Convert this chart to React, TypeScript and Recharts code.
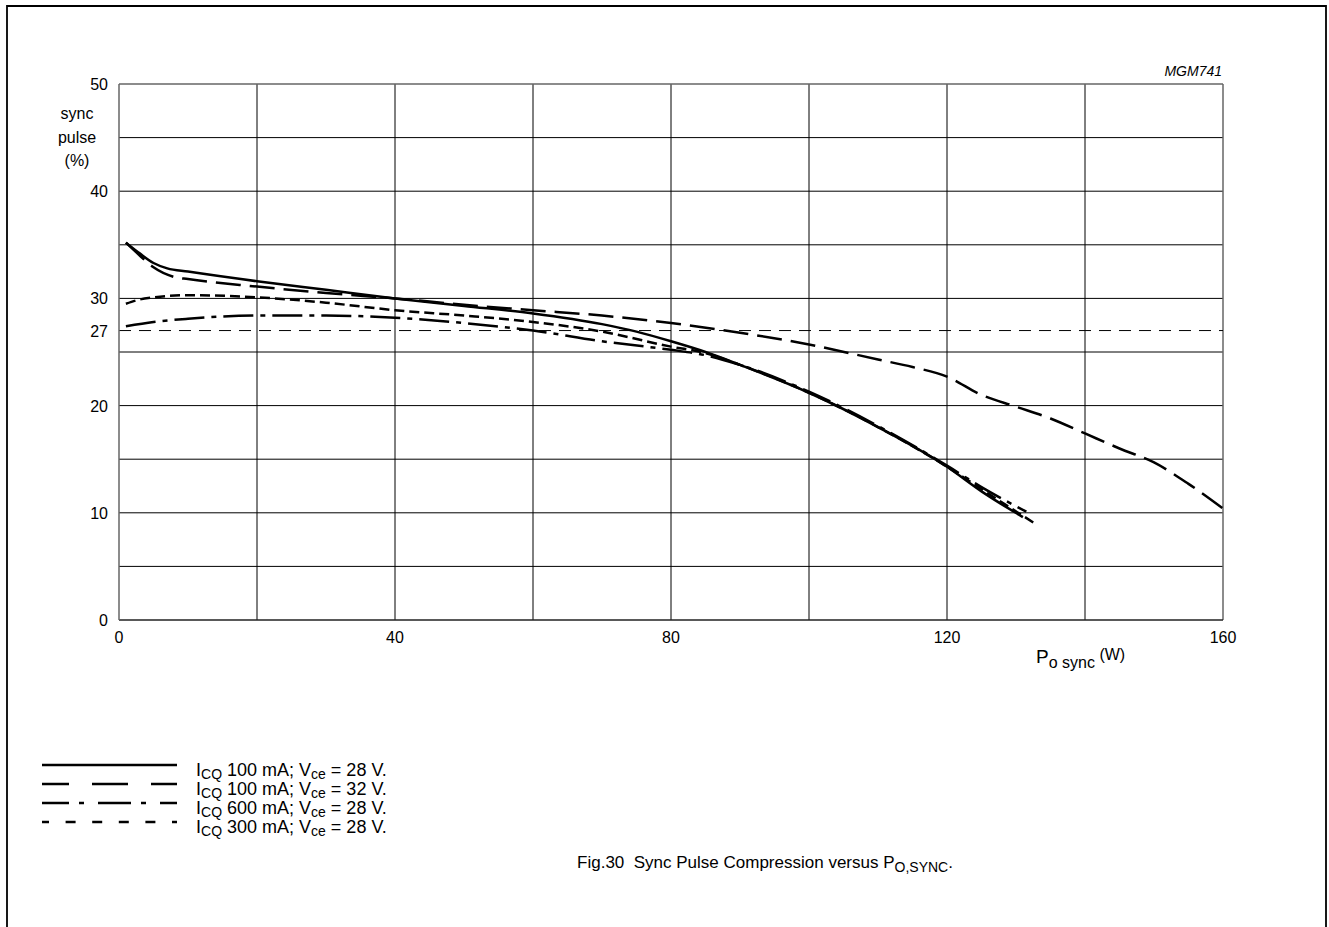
import React from "react";
import {
  LineChart,
  Line,
  XAxis,
  YAxis,
  ReferenceLine
} from "recharts";

// ICQ 100 mA; Vce = 28 V
const icq100v28 = [
  { x: 1, y: 35.2 }, { x: 3, y: 34.2 }, { x: 5, y: 33.3 }, { x: 7, y: 32.8 },
  { x: 10, y: 32.5 }, { x: 20, y: 31.6 }, { x: 30, y: 30.8 }, { x: 40, y: 30.0 },
  { x: 50, y: 29.3 }, { x: 60, y: 28.6 }, { x: 70, y: 27.6 }, { x: 75, y: 26.9 },
  { x: 80, y: 26.0 }, { x: 85, y: 25.0 }, { x: 90, y: 23.8 }, { x: 100, y: 21.2 },
  { x: 110, y: 18.0 }, { x: 120, y: 14.3 }, { x: 125, y: 12.0 }, { x: 131, y: 9.6 }
];

// ICQ 100 mA; Vce = 32 V
const icq100v32 = [
  { x: 1, y: 35.2 }, { x: 3, y: 34.0 }, { x: 5, y: 32.9 }, { x: 8, y: 32.0 },
  { x: 10, y: 31.8 }, { x: 20, y: 31.1 }, { x: 30, y: 30.5 }, { x: 40, y: 30.0 },
  { x: 50, y: 29.4 }, { x: 60, y: 28.9 }, { x: 70, y: 28.4 }, { x: 80, y: 27.7 },
  { x: 90, y: 26.8 }, { x: 100, y: 25.7 }, { x: 110, y: 24.3 }, { x: 115, y: 23.6 },
  { x: 120, y: 22.7 }, { x: 125, y: 21.0 }, { x: 130, y: 19.9 }, { x: 135, y: 18.8 },
  { x: 140, y: 17.4 }, { x: 145, y: 16.0 }, { x: 150, y: 14.7 }, { x: 155, y: 12.7 },
  { x: 160, y: 10.4 }
];

// ICQ 600 mA; Vce = 28 V
const icq600v28 = [
  { x: 1, y: 27.4 }, { x: 5, y: 27.8 }, { x: 10, y: 28.1 }, { x: 20, y: 28.4 },
  { x: 30, y: 28.4 }, { x: 40, y: 28.2 }, { x: 50, y: 27.7 }, { x: 60, y: 27.0 },
  { x: 70, y: 26.0 }, { x: 80, y: 25.2 }, { x: 85, y: 24.7 }, { x: 90, y: 23.8 },
  { x: 100, y: 21.3 }, { x: 110, y: 18.1 }, { x: 120, y: 14.4 }, { x: 125, y: 12.4 },
  { x: 131.5, y: 10.1 }
];

// ICQ 300 mA; Vce = 28 V
const icq300v28 = [
  { x: 1, y: 29.5 }, { x: 3, y: 29.9 }, { x: 5, y: 30.1 }, { x: 10, y: 30.3 },
  { x: 20, y: 30.1 }, { x: 30, y: 29.6 }, { x: 40, y: 28.9 }, { x: 50, y: 28.4 },
  { x: 60, y: 27.8 }, { x: 70, y: 26.9 }, { x: 80, y: 25.5 }, { x: 85, y: 24.9 },
  { x: 90, y: 23.8 }, { x: 100, y: 21.2 }, { x: 110, y: 18.0 }, { x: 120, y: 14.3 },
  { x: 125, y: 12.2 }, { x: 132.5, y: 9.1 }
];

const xTicks = [0, 20, 40, 60, 80, 100, 120, 140, 160];
const xLabels = [0, 40, 80, 120, 160];
const yTicks = [0, 5, 10, 15, 20, 25, 27, 30, 35, 40, 45, 50];
const yLabels = [0, 10, 20, 27, 30, 40, 50];
const gridX = [20, 40, 60, 80, 100, 120, 140];
const gridY = [5, 10, 15, 20, 25, 30, 35, 40, 45];
const refLevel = 27;

const legendRows = [
  { icq: "100", vce: "28", dash: undefined, offset: 0 },
  { icq: "100", vce: "32", dash: "36 23", offset: 9 },
  { icq: "600", vce: "28", dash: "33 10 5 14", offset: 6 },
  { icq: "300", vce: "28", dash: "10 16.6", offset: 3 }
];

const FONT = "'Liberation Sans', Arial, sans-serif";
const LW = 2.5;

const XTick = (props: any) => {
  const { x, y, payload } = props;
  if (!xLabels.includes(payload.value)) return <g />;
  return (
    <text x={x} y={y + 15} textAnchor="middle" fontSize={16} fontFamily={FONT} fill="#000">
      {payload.value}
    </text>
  );
};

const YTick = (props: any) => {
  const { y, payload } = props;
  if (!yLabels.includes(payload.value)) return <g />;
  return (
    <text x={108} y={y + 6} textAnchor="end" fontSize={16} fontFamily={FONT} fill="#000">
      {payload.value}
    </text>
  );
};

export default function App() {
  return (
    <div style={{ position: "absolute", left: 0, top: 0, width: 1329, height: 927, background: "#fff" }}>
      <LineChart
        width={1329}
        height={927}
        margin={{ top: 84, right: 106, bottom: 277, left: 59 }}
      >
        <XAxis
          type="number"
          dataKey="x"
          domain={[0, 160]}
          ticks={xTicks}
          tick={<XTick />}
          tickLine={false}
          axisLine={{ stroke: "#222", strokeWidth: 1.5 }}
          height={30}
          interval={0}
        />
        <YAxis
          type="number"
          dataKey="y"
          domain={[0, 50]}
          ticks={yTicks}
          tick={<YTick />}
          tickLine={false}
          axisLine={{ stroke: "#666", strokeWidth: 1.5 }}
          width={60}
          interval={0}
        />
        {gridX.map((v) => (
          <ReferenceLine key={"gx" + v} x={v} stroke="#000" strokeWidth={1} />
        ))}
        {gridY.map((v) => (
          <ReferenceLine key={"gy" + v} y={v} stroke="#000" strokeWidth={1} />
        ))}
        <ReferenceLine x={160} stroke="#666" strokeWidth={1.5} />
        <ReferenceLine y={50} stroke="#666" strokeWidth={1.5} />
        <ReferenceLine y={refLevel} stroke="#000" strokeWidth={1} strokeDasharray="12 8" />
        <Line
          data={icq100v28}
          dataKey="y"
          type="monotone"
          stroke="#000"
          strokeWidth={LW}
          dot={false}
          isAnimationActive={false}
        />
        <Line
          data={icq100v32}
          dataKey="y"
          type="monotone"
          stroke="#000"
          strokeWidth={LW}
          strokeDasharray="25 9"
          dot={false}
          isAnimationActive={false}
        />
        <Line
          data={icq600v28}
          dataKey="y"
          type="monotone"
          stroke="#000"
          strokeWidth={LW}
          strokeDasharray="30 7 5 7"
          dot={false}
          isAnimationActive={false}
        />
        <Line
          data={icq300v28}
          dataKey="y"
          type="monotone"
          stroke="#000"
          strokeWidth={LW}
          strokeDasharray="10 5"
          dot={false}
          isAnimationActive={false}
        />
      </LineChart>
      <svg
        width={1329}
        height={927}
        style={{ position: "absolute", left: 0, top: 0, pointerEvents: "none" }}
        fontFamily={FONT}
      >
        <polyline points="7,927 7,6 1326,6 1326,927" fill="none" stroke="#000" strokeWidth={1.8} />
        <text x={1222} y={76} textAnchor="end" fontSize={14} fontStyle="italic">MGM741</text>
        <text x={77} y={119} textAnchor="middle" fontSize={16}>sync</text>
        <text x={77} y={143} textAnchor="middle" fontSize={16}>pulse</text>
        <text x={77} y={166} textAnchor="middle" fontSize={16}>(%)</text>
        <text x={1036} y={663} fontSize={19}>
          P<tspan fontSize={16} dy={5}>o sync</tspan>
          <tspan fontSize={16} dy={-8}>{"\u00a0(W)"}</tspan>
        </text>
        {legendRows.map((r, i) => {
          const y = 765 + i * 19;
          return (
            <g key={i}>
              <line
                x1={42}
                x2={177}
                y1={y}
                y2={y}
                stroke="#000"
                strokeWidth={LW}
                strokeDasharray={r.dash}
                strokeDashoffset={r.offset}
              />
              <text x={196} y={y + 11} fontSize={18}>
                I<tspan fontSize={14} dy={3}>CQ</tspan>
                <tspan dy={-3}>{"\u00a0" + r.icq + " mA; V"}</tspan>
                <tspan fontSize={14} dy={3}>ce</tspan>
                <tspan dy={-3}>{"\u00a0= " + r.vce + " V."}</tspan>
              </text>
            </g>
          );
        })}
        <text x={765} y={868} textAnchor="middle" fontSize={17}>
          {"Fig.30\u00a0\u00a0Sync Pulse Compression versus P"}
          <tspan fontSize={14} dy={4}>O,SYNC</tspan>
          <tspan dy={-4}>.</tspan>
        </text>
      </svg>
    </div>
  );
}
